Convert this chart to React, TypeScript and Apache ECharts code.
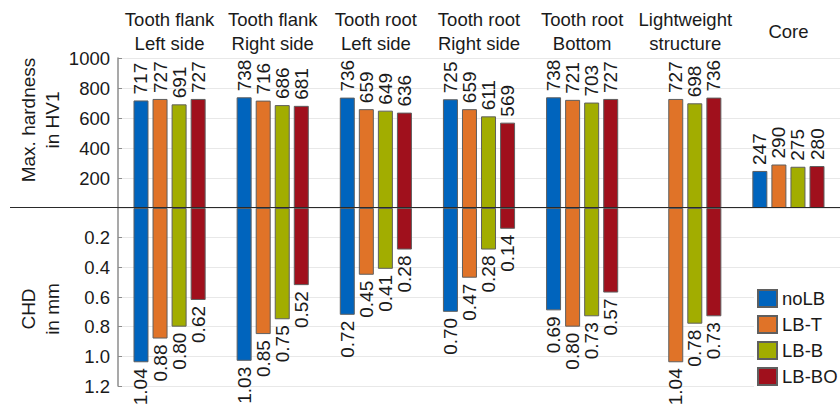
import React, { useEffect, useRef } from "react";
import * as echarts from "echarts";

// Measurement locations (two-line headings above the groups)
const categories = [
  "Tooth flank\nLeft side",
  "Tooth flank\nRight side",
  "Tooth root\nLeft side",
  "Tooth root\nRight side",
  "Tooth root\nBottom",
  "Lightweight\nstructure",
  "Core",
];

const seriesNames = ["noLB", "LB-T", "LB-B", "LB-BO"];
const seriesColors = ["#0064BD", "#E07328", "#A2AD00", "#A0101C"];

// Max. hardness in HV1
const hardnessNoLB = [717, 738, 736, 725, 738, null, 247];
const hardnessLBT = [727, 716, 659, 659, 721, 727, 290];
const hardnessLBB = [691, 686, 649, 611, 703, 698, 275];
const hardnessLBBO = [727, 681, 636, 569, 727, 736, 280];

// Case hardening depth (CHD) in mm
const chdNoLB = [1.04, 1.03, 0.72, 0.7, 0.69, null, null];
const chdLBT = [0.88, 0.85, 0.45, 0.47, 0.8, 1.04, null];
const chdLBB = [0.8, 0.75, 0.41, 0.28, 0.73, 0.78, null];
const chdLBBO = [0.62, 0.52, 0.28, 0.14, 0.57, 0.73, null];

const hardnessTicks = { min: 0, max: 1000, interval: 200 };
const chdTicks = { min: 0, max: 1.2, interval: 0.2 };

const FONT = "Arial";
const FS = 18.5;
const FS_LABEL = 19;
const TEXT = "#1a1a1a";
const PLOT_LEFT = 118;
const UPPER_TOP = 58;
const UPPER_H = 150;
const LOWER_H = 178;

export default function App() {
  const ref = useRef<HTMLDivElement>(null);

  useEffect(() => {
    if (!ref.current) return;
    const chart = echarts.init(ref.current, undefined, { renderer: "svg" });

    const hardness = [hardnessNoLB, hardnessLBT, hardnessLBB, hardnessLBBO];
    const chd = [chdNoLB, chdLBT, chdLBB, chdLBBO];

    const common = {
      type: "bar" as const,
      barWidth: 15,
      barGap: "27%",
      itemStyle: { borderColor: "#5f5f5f", borderWidth: 1 },
    };

    const upperSeries = seriesNames.map((name, i) => ({
      ...common,
      name,
      xAxisIndex: 0,
      yAxisIndex: 0,
      color: seriesColors[i],
      data: hardness[i],
      label: {
        show: true,
        position: "top",
        rotate: 90,
        align: "left",
        verticalAlign: "middle",
        distance: 6,
        fontSize: FS_LABEL,
        fontFamily: FONT,
        color: TEXT,
        formatter: (p: any) => String(p.value),
      },
    }));

    const lowerSeries = seriesNames.map((name, i) => ({
      ...common,
      name,
      xAxisIndex: 1,
      yAxisIndex: 1,
      color: seriesColors[i],
      data: chd[i],
      label: {
        show: true,
        position: "bottom",
        rotate: 90,
        align: "right",
        verticalAlign: "middle",
        distance: 6,
        fontSize: FS_LABEL,
        fontFamily: FONT,
        color: TEXT,
        formatter: (p: any) => Number(p.value).toFixed(2),
      },
    }));

    const yCommon = {
      axisLine: { show: true, lineStyle: { color: "#8c8c8c", width: 1.5 } },
      axisTick: { show: true, inside: true, length: 4, lineStyle: { color: "#8c8c8c" } },
      splitLine: { show: true, lineStyle: { color: "#e8e8e8", width: 1 } },
      nameLocation: "middle" as const,
      nameRotate: 90,
      nameMoveOverlap: false,
      nameGap: 54,
      nameTextStyle: {
        fontSize: FS_LABEL,
        fontFamily: FONT,
        color: TEXT,
        lineHeight: 24,
        align: "center" as const,
      },
    };

    chart.setOption({
      animation: false,
      textStyle: { fontFamily: FONT },
      grid: [
        { left: PLOT_LEFT, right: -4, top: UPPER_TOP, height: UPPER_H },
        { left: PLOT_LEFT, right: -4, top: UPPER_TOP + UPPER_H, height: LOWER_H },
      ],
      xAxis: [
        {
          type: "category",
          gridIndex: 0,
          position: "top",
          data: categories,
          axisLine: { show: false },
          axisTick: { show: false },
          axisLabel: {
            show: true,
            interval: 0,
            fontSize: FS,
            fontFamily: FONT,
            color: TEXT,
            lineHeight: 24,
            verticalAlign: "middle",
            margin: 27,
          },
        },
        {
          type: "category",
          gridIndex: 1,
          data: categories,
          axisLine: { show: false },
          axisTick: { show: false },
          axisLabel: { show: false },
        },
      ],
      yAxis: [
        {
          ...yCommon,
          type: "value",
          gridIndex: 0,
          ...hardnessTicks,
          name: "Max. hardness\nin HV1",
          nameTextStyle: { ...yCommon.nameTextStyle, padding: [0, 0, 0, 26] },
          axisLabel: {
            showMinLabel: false,
            fontSize: FS,
            fontFamily: FONT,
            color: TEXT,
            margin: 8,
            formatter: (v: number) => String(v),
          },
        },
        {
          ...yCommon,
          type: "value",
          gridIndex: 1,
          inverse: true,
          ...chdTicks,
          name: "CHD\nin mm",
          nameTextStyle: { ...yCommon.nameTextStyle, padding: [0, 24, 0, 0] },
          axisLabel: {
            showMinLabel: false,
            fontSize: FS,
            fontFamily: FONT,
            color: TEXT,
            margin: 8,
            formatter: (v: number) => v.toFixed(1),
          },
        },
      ],
      legend: {
        data: seriesNames,
        orient: "vertical",
        left: 754,
        top: 286,
        icon: "rect",
        itemWidth: 19,
        itemHeight: 17,
        itemGap: 7,
        padding: [3, 6, 3, 3],
        backgroundColor: "#ffffff",
        textStyle: { fontSize: FS, fontFamily: FONT, color: TEXT },
      },
      graphic: [
        {
          type: "line",
          z: 100,
          shape: { x1: 10, y1: UPPER_TOP + UPPER_H - 0.5, x2: 840, y2: UPPER_TOP + UPPER_H - 0.5 },
          style: { stroke: "#2a2a2a", lineWidth: 1 },
        },
      ],
      series: [...upperSeries, ...lowerSeries],
    });

    return () => chart.dispose();
  }, []);

  return (
    <div
      ref={ref}
      style={{ position: "absolute", left: 0, top: 0, width: 840, height: 408, background: "#fff" }}
    />
  );
}
